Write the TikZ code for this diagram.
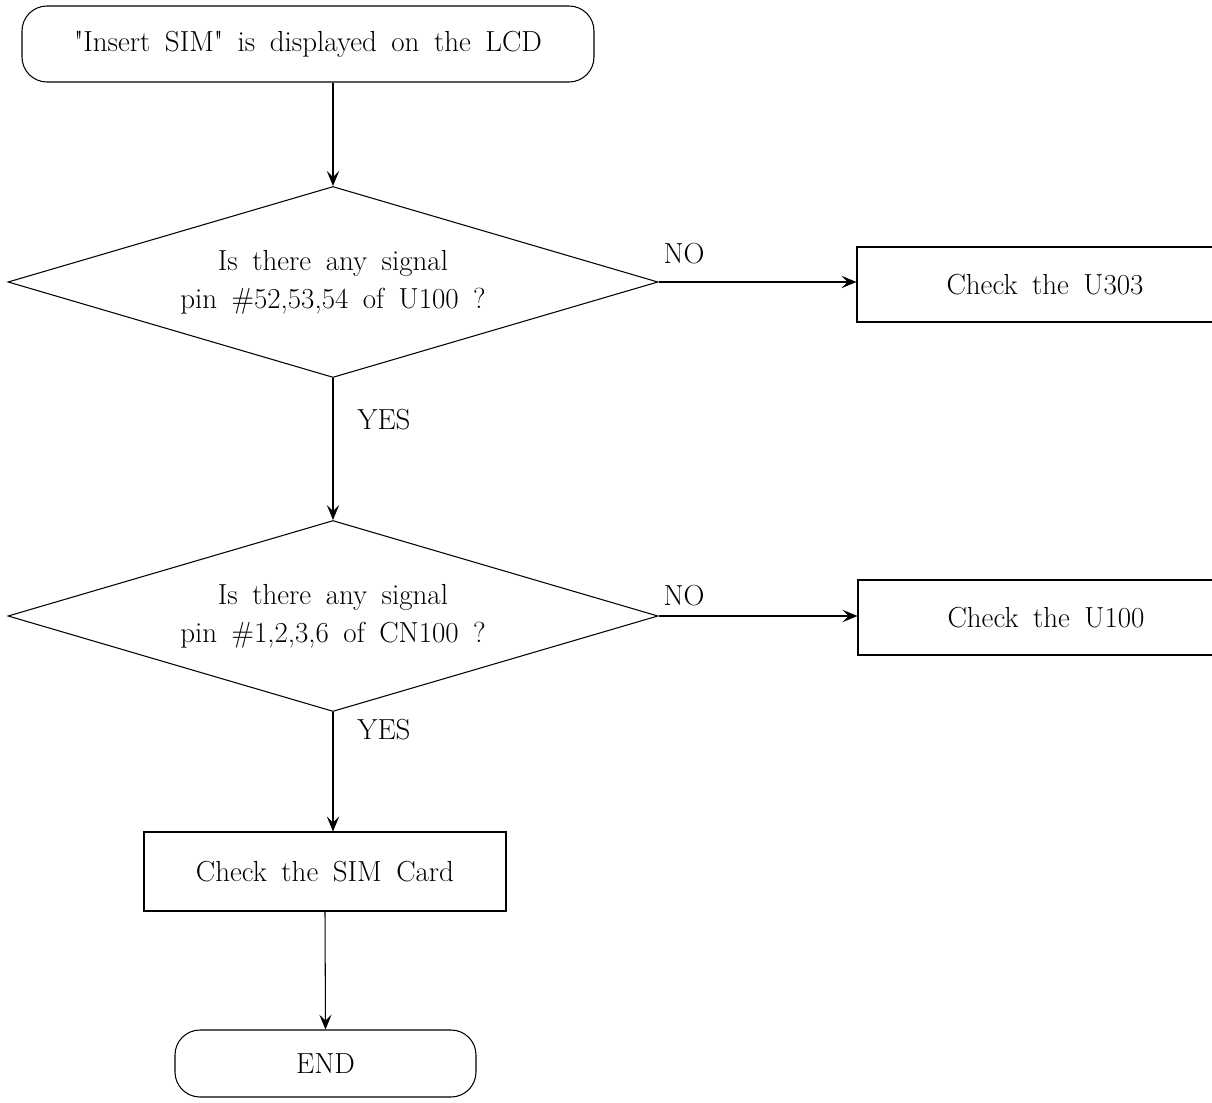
\documentclass[tikz,border=0pt]{standalone}
\usepackage{amsmath}
\usetikzlibrary{shapes.geometric,arrows.meta}

\newcommand{\chartfont}{\fontsize{16.5}{21.6}\selectfont\spaceskip=0.5em plus 0.1em\relax}

\begin{document}
\begin{tikzpicture}[line width = 0.6pt, >={Stealth[length=8.5pt,width=7pt,inset=3.5pt]},
                    font = \chartfont,
                    term/.style = {draw, rounded corners = 0.5cm, inner sep = 0},
                    proc/.style = {draw, inner sep = 0},
                    test/.style = {diamond, draw, aspect = 3.4, inner sep = 0,
                                   minimum width = 13cm, minimum height = 3.82cm, align = center}]

\clip (0,0) rectangle (24.24,-22.06);

% start and end
\node [term, minimum width = 11.44cm, minimum height = 1.52cm] (start) at (6.16,-0.88)
      {\textquotedbl Insert SIM\textquotedbl{} is displayed on the LCD};
\node [term, minimum width = 6.02cm, minimum height = 1.34cm] (stop) at (6.51,-21.27) {END};

% decisions
\node [test] (Q1) at (6.66,-5.64) {Is there any signal \\ pin \#52,53,54 of U100 ?};
\node [test] (Q2) at (6.66,-12.32) {Is there any signal \\ pin \#1,2,3,6 of CN100 ?};

% actions
\node [proc, minimum width = 7.52cm, minimum height = 1.5cm] (A1) at (20.9,-5.69) {Check the U303};
\node [proc, minimum width = 7.52cm, minimum height = 1.5cm] (A2) at (20.92,-12.35) {Check the U100};
\node [proc, minimum width = 7.24cm, minimum height = 1.58cm] (A3) at (6.5,-17.43) {Check the SIM Card};

% labels
\node at (13.68,-5.08) {NO};
\node at (13.68,-11.92) {NO};
\node at (7.68,-8.4) {YES};
\node at (7.68,-14.6) {YES};

\draw[->] (Q1.north |- start.south) -- (Q1.north);
\draw[->] (Q1.east) -- (Q1.east -| A1.west);
\draw[->] (Q1.south) -- (Q2.north);
\draw[->] (Q2.east) -- (Q2.east -| A2.west);
\draw[->] (Q2.south) -- (Q2.south |- A3.north);
\draw[->] (A3.south) -- (stop.north);
\end{tikzpicture}
\end{document}
